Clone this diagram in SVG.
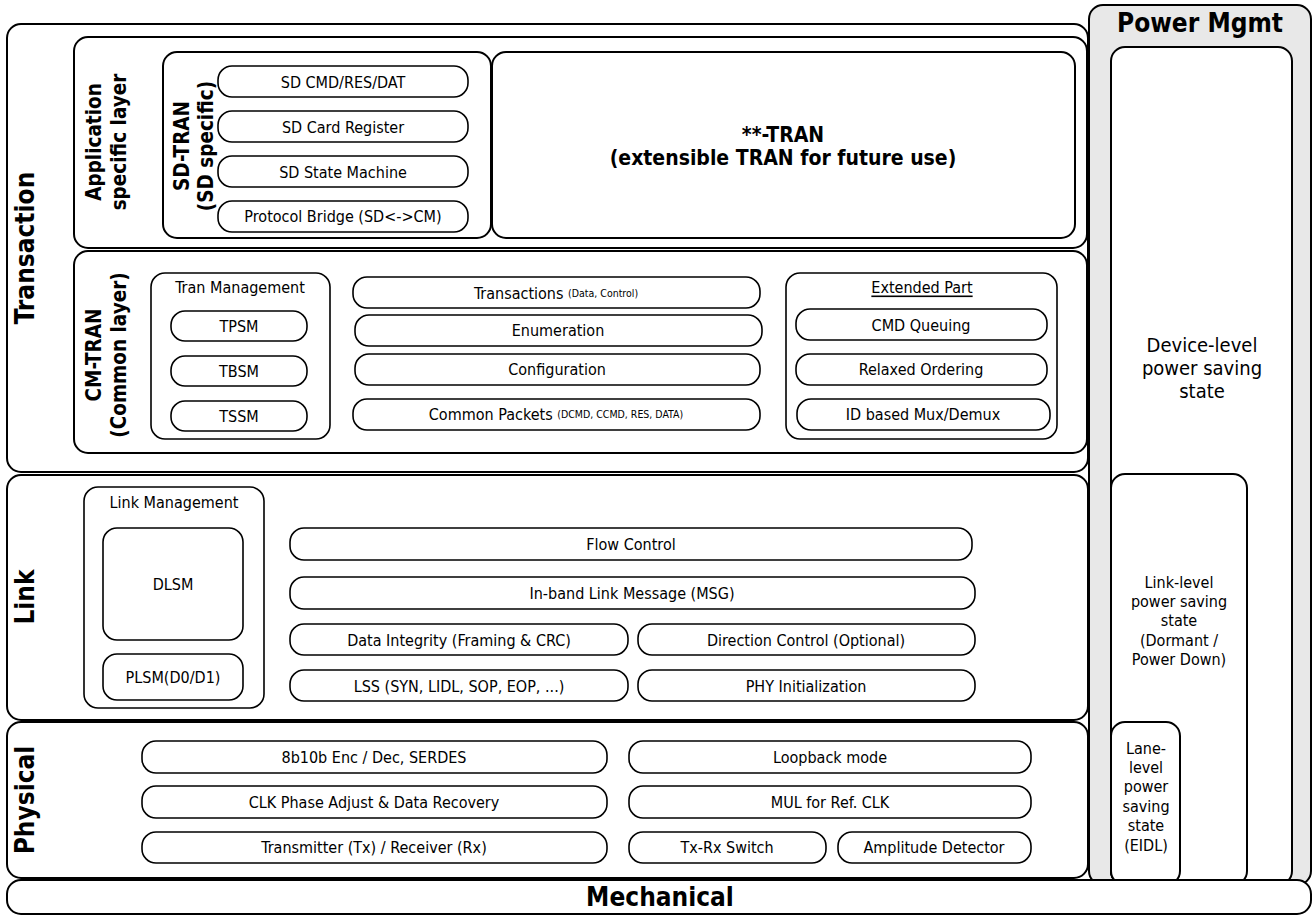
<svg xmlns="http://www.w3.org/2000/svg" width="1313" height="919" viewBox="0 0 1313 919">
<style>
.b{fill:#fff;stroke:#000;stroke-width:2}
.p{fill:#fff;stroke:#000;stroke-width:1.6}
.g{fill:#e8e8e8;stroke:#000;stroke-width:2}
text{font-family:"DejaVu Sans Condensed","DejaVu Sans",sans-serif;font-stretch:condensed;fill:#000;text-anchor:middle;dominant-baseline:central}
.t{font-size:16px}
.s{font-size:10.5px}
.h{font-weight:bold}
</style>
<rect width="1313" height="919" fill="#fff"/>
<g id="power">
<rect class="g" x="1089" y="5" width="222" height="880" rx="14"/>
<text class="h" x="1200" y="23" font-size="26">Power Mgmt</text>
<rect class="b" x="1111" y="47" width="181" height="838" rx="14"/>
<text x="1202" y="345" font-size="20">Device-level</text>
<text x="1202" y="368" font-size="20">power saving</text>
<text x="1202" y="391" font-size="20">state</text>
<rect class="b" x="1111" y="474" width="136" height="411" rx="14"/>
<text class="t" x="1179" y="582">Link-level</text>
<text class="t" x="1179" y="601">power saving</text>
<text class="t" x="1179" y="620">state</text>
<text class="t" x="1179" y="640">(Dormant /</text>
<text class="t" x="1179" y="659">Power Down)</text>
<rect class="b" x="1111" y="722" width="69" height="163" rx="14"/>
<text class="t" x="1146" y="748">Lane-</text>
<text class="t" x="1146" y="767">level</text>
<text class="t" x="1146" y="786">power</text>
<text class="t" x="1146" y="806">saving</text>
<text class="t" x="1146" y="825">state</text>
<text class="t" x="1146" y="845">(EIDL)</text>
</g>
<g id="transaction">
<rect class="b" x="7" y="24" width="1081" height="448" rx="14"/>
<text class="h" font-size="26" transform="translate(25,248) rotate(-90)">Transaction</text>
</g>
<g id="app-layer">
<rect class="b" x="74" y="37" width="1013" height="211" rx="14"/>
<text class="h" font-size="20.5" transform="translate(94,142) rotate(-90)">Application</text>
<text class="h" font-size="20.5" transform="translate(119,142) rotate(-90)">specific layer</text>
</g>
<g id="sd-tran">
<rect class="b" x="163" y="52" width="328" height="186" rx="14"/>
<text class="h" font-size="20.5" transform="translate(182,146) rotate(-90)">SD-TRAN</text>
<text class="h" font-size="20.5" transform="translate(206,146) rotate(-90)">(SD specific)</text>
<rect class="p" x="218" y="66" width="250" height="31" rx="14"/>
<text class="t" x="343" y="82">SD CMD/RES/DAT</text>
<rect class="p" x="218" y="111" width="250" height="31" rx="14"/>
<text class="t" x="343" y="127">SD Card Register</text>
<rect class="p" x="218" y="156" width="250" height="31" rx="14"/>
<text class="t" x="343" y="172">SD State Machine</text>
<rect class="p" x="218" y="201" width="250" height="31" rx="14"/>
<text class="t" x="343" y="216">Protocol Bridge (SD&lt;-&gt;CM)</text>
</g>
<g id="ext-tran">
<rect class="b" x="492" y="52" width="583" height="186" rx="14"/>
<text class="h" font-size="21" x="783" y="135">**-TRAN</text>
<text class="h" font-size="21" x="783" y="158">(extensible TRAN for future use)</text>
</g>
<g id="cm-tran">
<rect class="b" x="74" y="251" width="1013" height="202" rx="14"/>
<text class="h" font-size="20.5" transform="translate(94,355) rotate(-90)">CM-TRAN</text>
<text class="h" font-size="20.5" transform="translate(119,355) rotate(-90)">(Common layer)</text>
</g>
<g id="tran-mgmt">
<rect class="p" x="151" y="273" width="179" height="166" rx="14"/>
<text class="t" x="240" y="287">Tran Management</text>
<rect class="p" x="171" y="311" width="136" height="30" rx="14"/>
<text class="t" x="239" y="326">TPSM</text>
<rect class="p" x="171" y="356" width="136" height="30" rx="14"/>
<text class="t" x="239" y="371">TBSM</text>
<rect class="p" x="171" y="401" width="136" height="30" rx="14"/>
<text class="t" x="239" y="416">TSSM</text>
</g>
<g id="cm-items">
<rect class="p" x="353" y="277" width="407" height="31" rx="14"/>
<text class="t" x="556" y="293">Transactions <tspan class="s">(Data, Control)</tspan></text>
<rect class="p" x="355" y="315" width="407" height="31" rx="14"/>
<text class="t" x="558" y="330">Enumeration</text>
<rect class="p" x="355" y="354" width="405" height="31" rx="14"/>
<text class="t" x="557" y="369">Configuration</text>
<rect class="p" x="353" y="399" width="407" height="31" rx="14"/>
<text class="t" x="556" y="414">Common Packets <tspan class="s">(DCMD, CCMD, RES, DATA)</tspan></text>
</g>
<g id="extended">
<rect class="p" x="786" y="273" width="271" height="166" rx="14"/>
<text class="t" x="922" y="287" text-decoration="underline">Extended Part</text>
<rect class="p" x="796" y="309" width="251" height="31" rx="14"/>
<text class="t" x="921" y="325">CMD Queuing</text>
<rect class="p" x="796" y="354" width="251" height="31" rx="14"/>
<text class="t" x="921" y="369">Relaxed Ordering</text>
<rect class="p" x="797" y="399" width="253" height="31" rx="14"/>
<text class="t" x="923" y="414">ID based Mux/Demux</text>
</g>
<g id="link">
<rect class="b" x="7" y="475" width="1081" height="245" rx="14"/>
<text class="h" font-size="26" transform="translate(25,597) rotate(-90)">Link</text>
</g>
<g id="link-mgmt">
<rect class="p" x="84" y="487" width="180" height="221" rx="14"/>
<text class="t" x="174" y="502">Link Management</text>
<rect class="p" x="103" y="528" width="140" height="112" rx="14"/>
<text class="t" x="173" y="584">DLSM</text>
<rect class="p" x="103" y="654" width="140" height="46" rx="14"/>
<text class="t" x="173" y="677">PLSM(D0/D1)</text>
</g>
<g id="link-items">
<rect class="p" x="290" y="528" width="682" height="32" rx="14"/>
<text class="t" x="631" y="544">Flow Control</text>
<rect class="p" x="290" y="577" width="685" height="32" rx="14"/>
<text class="t" x="632" y="593">In-band Link Message (MSG)</text>
<rect class="p" x="290" y="624" width="338" height="31" rx="14"/>
<text class="t" x="459" y="640">Data Integrity (Framing &amp; CRC)</text>
<rect class="p" x="638" y="624" width="337" height="31" rx="14"/>
<text class="t" x="806" y="640">Direction Control (Optional)</text>
<rect class="p" x="290" y="670" width="338" height="31" rx="14"/>
<text class="t" x="459" y="686">LSS (SYN, LIDL, SOP, EOP, ...)</text>
<rect class="p" x="638" y="670" width="337" height="31" rx="14"/>
<text class="t" x="806" y="686">PHY Initialization</text>
</g>
<g id="physical">
<rect class="b" x="7" y="722" width="1081" height="156" rx="14"/>
<text class="h" font-size="26" transform="translate(25,800) rotate(-90)">Physical</text>
</g>
<g id="phy-items">
<rect class="p" x="142" y="741" width="465" height="32" rx="14"/>
<text class="t" x="374" y="757">8b10b Enc / Dec, SERDES</text>
<rect class="p" x="142" y="786" width="465" height="32" rx="14"/>
<text class="t" x="374" y="802">CLK Phase Adjust &amp; Data Recovery</text>
<rect class="p" x="142" y="832" width="465" height="31" rx="14"/>
<text class="t" x="374" y="847">Transmitter (Tx) / Receiver (Rx)</text>
<rect class="p" x="629" y="741" width="402" height="32" rx="14"/>
<text class="t" x="830" y="757">Loopback mode</text>
<rect class="p" x="629" y="786" width="402" height="32" rx="14"/>
<text class="t" x="830" y="802">MUL for Ref. CLK</text>
<rect class="p" x="629" y="832" width="197" height="31" rx="14"/>
<text class="t" x="727" y="847">Tx-Rx Switch</text>
<rect class="p" x="838" y="832" width="193" height="31" rx="14"/>
<text class="t" x="934" y="847">Amplitude Detector</text>
</g>
<g id="mechanical">
<rect class="b" x="7" y="880" width="1304" height="34" rx="14"/>
<text class="h" font-size="26" x="660" y="897">Mechanical</text>
</g>
<g id="connectors"></g>
</svg>
